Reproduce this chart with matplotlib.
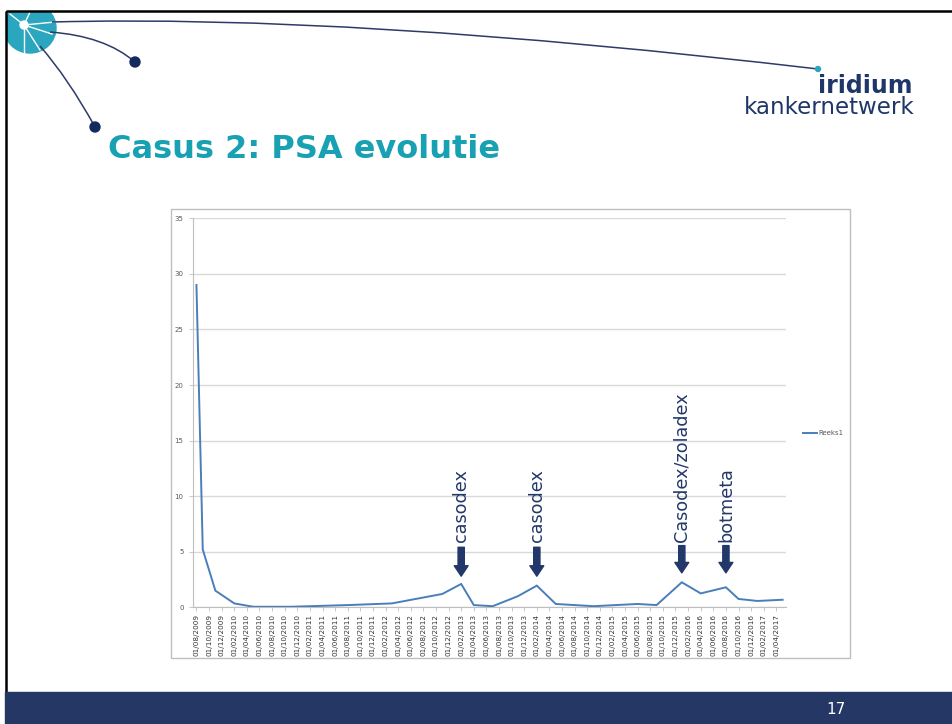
import matplotlib
matplotlib.use("Agg")
import matplotlib.pyplot as plt
from matplotlib.patches import Rectangle, Ellipse, Circle, PathPatch
from matplotlib.path import Path

# ---------------- data ----------------
dates = ['2009-08', '2009-09', '2009-11', '2010-02', '2010-05', '2010-11', '2011-08',
         '2012-03', '2012-11', '2013-02', '2013-04', '2013-07', '2013-11', '2014-02',
         '2014-05', '2014-11', '2015-06', '2015-09', '2016-01', '2016-04', '2016-08',
         '2016-10', '2017-01', '2017-05']
psa = [29, 5.2, 1.5, 0.35, 0.05, 0.05, 0.2,
       0.35, 1.2, 2.1, 0.2, 0.1, 1.0, 1.95,
       0.3, 0.1, 0.3, 0.2, 2.25, 1.25, 1.8,
       0.75, 0.57, 0.68]
series_name = 'Reeks1'

tick_years = [2009] * 3 + [y for y in range(2010, 2017) for _ in range(6)] + [2017] * 2
tick_months = [8, 10, 12] + [2, 4, 6, 8, 10, 12] * 7 + [2, 4]
tick_labels = ['01/%02d/%d' % (m, y) for y, m in zip(tick_years, tick_months)]

ann_labels = ['casodex', 'casodex', 'Casodex/zoladex', 'botmeta']
ann_dates = ['2013-02', '2014-02', '2016-01', '2016-08']
ann_arrow_top = [5.4, 5.4, 5.55, 5.55]
ann_arrow_tip = [2.8, 2.8, 3.1, 3.1]
ann_text_y = [5.9, 5.9, 5.9, 5.9]

y_ticks = [0, 5, 10, 15, 20, 25, 30, 35]


def month_index(y, m):
    return (y - 2009) * 12 + (m - 8)


def idx(s):
    y, m = s.split('-')
    return month_index(int(y), int(m))


x = [idx(d) for d in dates]
tick_pos = [month_index(y, m) for y, m in zip(tick_years, tick_months)]

W, H = 952, 724
fig = plt.figure(figsize=(W / 100, H / 100), dpi=100)
fig.patch.set_facecolor('white')

# ---------------- slide decoration (pixel coordinates) ----------------
deco = fig.add_axes([0, 0, 1, 1])
deco.set_xlim(0, W)
deco.set_ylim(H, 0)
deco.axis('off')
deco.set_zorder(0)

teal = '#2BA6BF'
navy = '#253865'
lnav = '#2E3A68'

deco.add_patch(Ellipse((30, 28), 52, 50, color=teal, zorder=1))
for ex, ey in [(55, 22), (52, 34), (40, 50), (24, 52), (10, 14), (30, 12)]:
    deco.plot([24, ex], [25, ey], color='white', lw=1.0, zorder=2)
deco.add_patch(Circle((24, 25), 4, color='white', zorder=3))

for p0, p1, p2 in [((52, 22), (350, 14), (818, 69)),
                   ((50, 32), (105, 36), (135, 62)),
                   ((40, 46), (68, 78), (95, 127))]:
    path = Path([p0, p1, p2], [Path.MOVETO, Path.CURVE3, Path.CURVE3])
    deco.add_patch(PathPatch(path, fill=False, edgecolor=lnav, lw=1.1, zorder=2))
deco.add_patch(Circle((135, 62), 5, color='#132A5E', zorder=3))
deco.add_patch(Circle((95, 127), 5, color='#132A5E', zorder=3))
deco.add_patch(Circle((818, 69), 2.5, color=teal, zorder=3))

# white outside slide frame, then frame
deco.add_patch(Rectangle((0, 0), W, 10.5, color='white', zorder=4))
deco.add_patch(Rectangle((0, 0), 5, H, color='white', zorder=4))
deco.add_patch(Rectangle((5.5, 11), W + 5, 690, fill=False, edgecolor='black', lw=1.8, zorder=5))

# bottom band
deco.add_patch(Rectangle((5, 692), W, 40, color=navy, zorder=5))
deco.text(836, 709, '17', color='white', fontsize=11, ha='center', va='center', zorder=6)

# logo text
deco.text(912, 86, 'iridium', color='#1E3668', fontsize=17, fontweight='bold',
          ha='right', va='center', zorder=6)
deco.text(915, 108, 'kankernetwerk', color='#1E3668', fontsize=16.5,
          ha='right', va='center', zorder=6)

# title
deco.text(108, 150, 'Casus 2: PSA evolutie', color='#17A1B2', fontsize=23,
          fontweight='bold', ha='left', va='center', zorder=6)

# chart frame
deco.add_patch(Rectangle((171, 209), 679, 449, fill=False, edgecolor='#BFBFBF', lw=1.0, zorder=6))

# ---------------- chart ----------------
x0, x1 = 193.3, 785.8
y0, y1 = 607.3, 218.3
ax = fig.add_axes([x0 / W, (H - y0) / H, (x1 - x0) / W, (y0 - y1) / H])
ax.set_zorder(2)
ax.patch.set_alpha(0)

ax.plot(x, psa, color='#4A7EBB', lw=1.4, label=series_name, zorder=3, solid_joinstyle='miter')

ax.set_xlim(-0.5, 93.5)
ax.set_ylim(0, 35)
ax.set_yticks(y_ticks)
ax.set_yticklabels([str(v) for v in y_ticks])
ax.yaxis.grid(True, color='#D9D9D9', lw=1.0)
ax.set_axisbelow(True)
ax.set_xticks(tick_pos)
ax.set_xticklabels(tick_labels, rotation=90, fontsize=5.2, color='#333333')
ax.tick_params(axis='x', length=3, width=0.6, color='#BFBFBF', pad=1.5)
ax.tick_params(axis='y', length=3, width=0.6, color='#BFBFBF', labelsize=5, labelcolor='#595959', pad=4)
for s in ['top', 'right']:
    ax.spines[s].set_visible(False)
ax.spines['left'].set_color('#BFBFBF')
ax.spines['bottom'].set_color('#BFBFBF')
ax.spines['left'].set_linewidth(0.8)
ax.spines['bottom'].set_linewidth(0.8)

ann_color = '#22386A'
for lab, d, top, tip, ty in zip(ann_labels, ann_dates, ann_arrow_top, ann_arrow_tip, ann_text_y):
    xm = idx(d)
    ax.annotate('', xy=(xm, tip), xytext=(xm, top),
                arrowprops=dict(arrowstyle='simple,head_length=0.75,head_width=1.0,tail_width=0.45',
                                mutation_scale=10, color=ann_color, shrinkA=0, shrinkB=0))
    ax.text(xm, ty, lab, rotation=90, ha='center', va='bottom', fontsize=12.7, color=ann_color)

fig.legend(loc='center left', bbox_to_anchor=(797 / W, (H - 433) / H), frameon=False,
           fontsize=5, handlelength=2.0, handletextpad=0.2, labelcolor='#595959')

fig.savefig('out.png', dpi=100)
